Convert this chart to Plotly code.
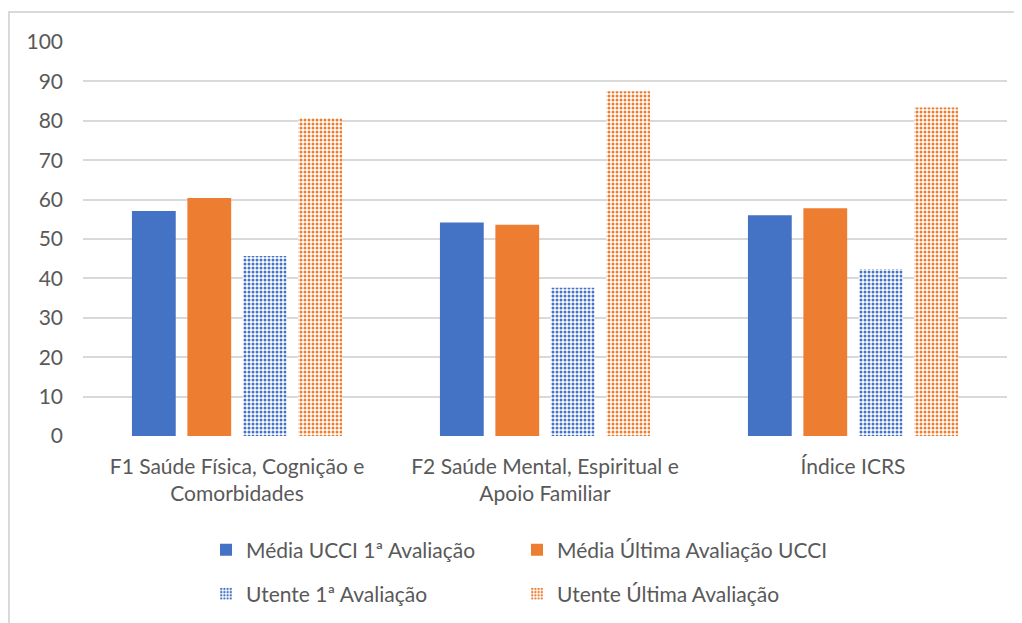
import plotly.graph_objects as go

categories = ["F1 Saúde Física, Cognição e<br>Comorbidades",
              "F2 Saúde Mental, Espiritual e<br>Apoio Familiar",
              "Índice ICRS"]
media_ucci_1 = [57.1, 54.2, 56.0]
media_ucci_ult = [60.4, 53.6, 57.8]
utente_1 = [45.7, 37.6, 42.4]
utente_ult = [80.7, 87.5, 83.4]
series_names = ["Média UCCI 1ª Avaliação", "Média Última Avaliação UCCI",
                "Utente 1ª Avaliação", "Utente Última Avaliação"]

BLUE = "#4472C4"
ORANGE = "#ED7D31"
W, H = 1022, 623
L, R, T, B = 75, 23, 34, 195

font = dict(family="Lato, Open Sans, sans-serif", size=21, color="#595959")

fig = go.Figure()
fig.add_trace(go.Bar(x=categories, y=media_ucci_1, name=series_names[0], legend="legend",
                     marker=dict(color=BLUE, line_width=0)))
fig.add_trace(go.Bar(x=categories, y=media_ucci_ult, name=series_names[1], legend="legend",
                     marker=dict(color=ORANGE, line_width=0)))
fig.add_trace(go.Bar(x=categories, y=utente_1, name=series_names[2], legend="legend2",
                     marker=dict(color="white", line_width=0,
                                 pattern=dict(shape=".", fgcolor=BLUE, bgcolor="white",
                                              size=4, solidity=0.45, fillmode="replace"))))
fig.add_trace(go.Bar(x=categories, y=utente_ult, name=series_names[3], legend="legend2",
                     marker=dict(color="white", line_width=0,
                                 pattern=dict(shape=".", fgcolor=ORANGE, bgcolor="white",
                                              size=4, solidity=0.45, fillmode="replace"))))

pw = W - L - R
ph = H - T - B
def px2x(px):
    return (px - L) / pw
def py2y(py):
    return (H - B - py) / ph

leg_common = dict(orientation="h", xanchor="left", yanchor="middle",
                  entrywidth=266, traceorder="normal", font=font, itemwidth=30,
                  bgcolor="rgba(0,0,0,0)")
fig.update_layout(
    width=W, height=H,
    margin=dict(l=L, r=R, t=T, b=B, pad=0),
    paper_bgcolor="white", plot_bgcolor="white",
    font=font,
    barmode="group", bargap=0.28, bargroupgap=0.21,
    showlegend=True,
    legend=dict(x=px2x(198), y=py2y(542), **leg_common),
    legend2=dict(x=px2x(198), y=py2y(586), **leg_common),
    yaxis=dict(range=[0, 100], dtick=10, showgrid=True, gridcolor="#d9d9d9", gridwidth=1.5,
               zeroline=False, showline=False, ticks="", tickfont=font, ticklabelstandoff=19),
    xaxis=dict(showgrid=False, showline=False, ticks="", tickfont=font, ticklabelstandoff=16),
    shapes=[
        dict(type="line", xref="paper", yref="paper", x0=px2x(0), x1=px2x(1022),
             y0=py2y(4), y1=py2y(4), line=dict(color="#d9d9d9", width=2)),
        dict(type="line", xref="paper", yref="paper", x0=px2x(1), x1=px2x(1),
             y0=py2y(4), y1=py2y(623), line=dict(color="#d9d9d9", width=2)),
    ],
)
fig.write_html("out.html")
